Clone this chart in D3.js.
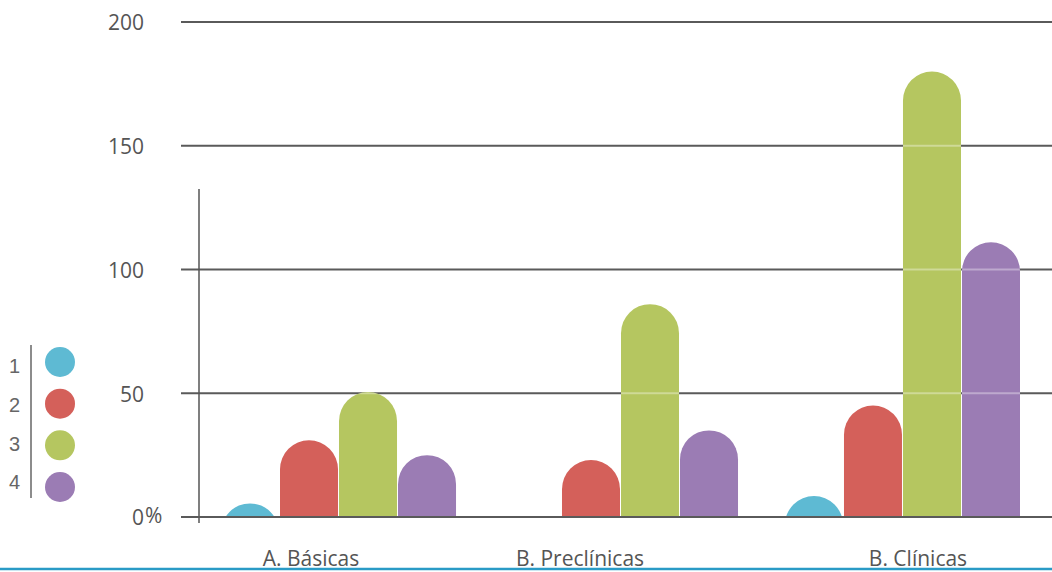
<!DOCTYPE html>
<html>
<head>
<meta charset="utf-8">
<script src="https://cdn.jsdelivr.net/npm/d3@7"></script>
<style>
    body { margin: 0; background: #fff; }
    svg { display: block; }
    .tick-label, .cat-label { font-family: "Open Sans", sans-serif; fill: #555; }
    .legend-label { font-family: "Liberation Sans Narrow", "Liberation Sans", sans-serif; fill: #666; }
</style>
</head>
<body>
<svg width="1052" height="572"></svg>
<script>
// Data
let categories = ["A. Básicas", "B. Preclínicas", "B. Clínicas"];
let series = ["1", "2", "3", "4"];
let values1 = [5.5, 0, 8.5];
let values2 = [31, 23, 45];
let values3 = [50.5, 86, 180];
let values4 = [25, 35, 111];
let yTicks = [0, 50, 100, 150, 200];

let colors = ["#5ebad3", "#d4605a", "#b5c660", "#9b7cb4"];

// Layout
let svg = d3.select("svg");
let width = 1052;
let gridLeft = 181;
let labelShift = [-28, -41, 15];

let seriesValues = [values1, values2, values3, values4];
let data = [];
categories.forEach(function(c, i) {
    series.forEach(function(s, j) {
        data.push({cat: c, ci: i, key: s, si: j, value: seriesValues[j][i]});
    });
});

// Scales
let yScale = d3.scaleLinear()
    .domain([0, 200])
    .range([517, 22]);

let x0 = d3.scaleBand()
    .domain(categories)
    .range([221, 1021])
    .paddingInner(0.163)
    .paddingOuter(0);

let x1 = d3.scaleBand()
    .domain(series)
    .range([0, x0.bandwidth()]);

let barWidth = x1.bandwidth() - 1;
let r = barWidth / 2;

// Bar shape: flat bottom, round top
function barPath(d) {
    let x = x0(d.cat) + x1(d.key);
    let top = yScale(d.value);
    let base = yScale(0);
    return "M" + x + "," + (base + r) +
        "L" + x + "," + (top + r) +
        "A" + r + "," + r + " 0 0 1 " + (x + barWidth) + "," + (top + r) +
        "L" + (x + barWidth) + "," + (base + r) + "Z";
}

let bars = data.filter(function(d) { return d.value > 0; });

let defs = svg.append("defs");
defs.append("clipPath")
    .attr("id", "above-base")
    .append("rect")
    .attr("x", 0)
    .attr("y", 0)
    .attr("width", width)
    .attr("height", yScale(0));

defs.append("clipPath")
    .attr("id", "bar-clip")
    .selectAll("path")
    .data(bars)
    .enter().append("path")
    .attr("d", barPath);

// Gridlines
svg.append("g")
    .selectAll("line")
    .data(yTicks.filter(function(t) { return t > 0; }))
    .enter().append("line")
    .attr("x1", gridLeft)
    .attr("x2", width)
    .attr("y1", function(d) { return yScale(d); })
    .attr("y2", function(d) { return yScale(d); })
    .attr("stroke", "#5a5a5a")
    .attr("stroke-width", 2);

// Vertical axis line
svg.append("line")
    .attr("x1", 199)
    .attr("x2", 199)
    .attr("y1", 189)
    .attr("y2", 523)
    .attr("stroke", "#555")
    .attr("stroke-width", 1.5);

// Tick labels
svg.append("g")
    .selectAll("text")
    .data(yTicks)
    .enter().append("text")
    .attr("class", "tick-label")
    .attr("x", 144)
    .attr("y", function(d) { return yScale(d) + 1; })
    .attr("dy", "0.35em")
    .attr("text-anchor", "end")
    .style("font-size", "21px")
    .text(function(d) { return d; });

svg.append("text")
    .attr("class", "tick-label")
    .attr("x", 145)
    .attr("y", yScale(0) - 1)
    .attr("dy", "0.35em")
    .style("font-size", "21px")
    .text("%");

// Bars
svg.append("g")
    .attr("clip-path", "url(#above-base)")
    .selectAll("path")
    .data(bars)
    .enter().append("path")
    .attr("d", barPath)
    .attr("fill", function(d) { return colors[d.si]; });

// Light gridlines showing through the bars
svg.append("g")
    .attr("clip-path", "url(#bar-clip)")
    .selectAll("line")
    .data(yTicks.filter(function(t) { return t > 0; }))
    .enter().append("line")
    .attr("x1", gridLeft)
    .attr("x2", width)
    .attr("y1", function(d) { return yScale(d); })
    .attr("y2", function(d) { return yScale(d); })
    .attr("stroke", "#fff")
    .attr("stroke-opacity", 0.35)
    .attr("stroke-width", 2);

// Zero line
svg.append("line")
    .attr("x1", gridLeft)
    .attr("x2", width)
    .attr("y1", yScale(0))
    .attr("y2", yScale(0))
    .attr("stroke", "#5a5a5a")
    .attr("stroke-width", 2);

// Category labels
svg.append("g")
    .selectAll("text")
    .data(categories)
    .enter().append("text")
    .attr("class", "cat-label")
    .attr("x", function(d, i) { return x0(d) + x0.bandwidth() / 2 + labelShift[i]; })
    .attr("y", 566)
    .attr("text-anchor", "middle")
    .style("font-size", "21px")
    .text(function(d) { return d; });

// Bottom rule
svg.append("line")
    .attr("x1", 0)
    .attr("x2", width)
    .attr("y1", 569)
    .attr("y2", 569)
    .attr("stroke", "#2a9bc6")
    .attr("stroke-width", 2.5);

// Legend
let legendY = d3.scalePoint()
    .domain(series)
    .range([362, 487]);

let numberY = d3.scalePoint()
    .domain(series)
    .range([366, 482]);

svg.append("line")
    .attr("x1", 31)
    .attr("x2", 31)
    .attr("y1", 345)
    .attr("y2", 498)
    .attr("stroke", "#666")
    .attr("stroke-width", 1.5);

svg.append("g")
    .selectAll("circle")
    .data(series)
    .enter().append("circle")
    .attr("cx", 60)
    .attr("cy", function(d) { return legendY(d); })
    .attr("r", 15)
    .attr("fill", function(d, i) { return colors[i]; });

svg.append("g")
    .selectAll("text")
    .data(series)
    .enter().append("text")
    .attr("class", "legend-label")
    .attr("x", 14.5)
    .attr("y", function(d) { return numberY(d); })
    .attr("dy", "0.36em")
    .attr("text-anchor", "middle")
    .style("font-size", "20px")
    .text(function(d) { return d; });
</script>
</body>
</html>
